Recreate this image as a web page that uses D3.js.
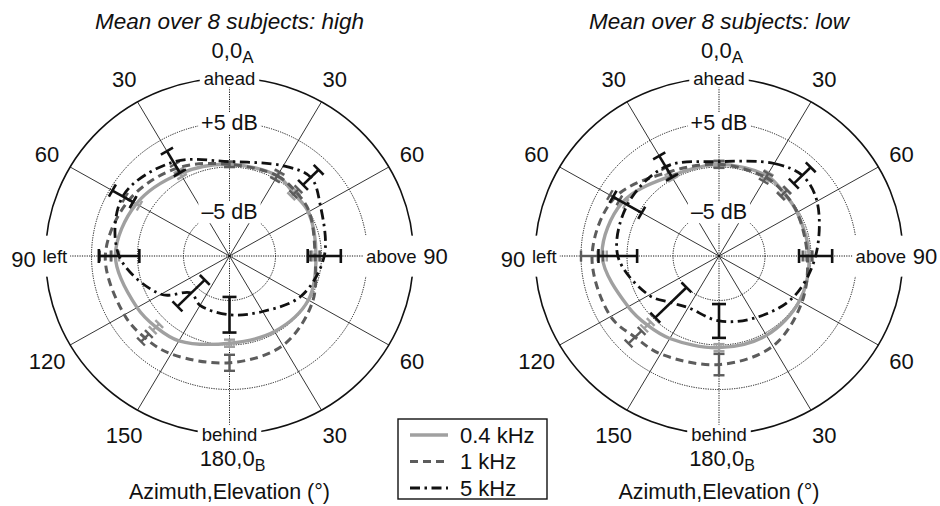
<!DOCTYPE html>
<html>
<head>
<meta charset="utf-8">
<script src="https://cdn.jsdelivr.net/npm/d3@7"></script>
<style>
  body { margin: 0; background: #fff; }
  text { font-family: "Liberation Sans", Arial, Helvetica, sans-serif; fill: #111; }
</style>
</head>
<body>
<svg id="chart" width="940" height="506"></svg>
<script>
// plot angle in degrees, clockwise from "ahead" (left half = azimuth, right half = elevation)
const angles = [0, 30, 45, 60, 90, 120, 150, 180, 210, 225, 240, 270, 300, 330];

// dB values, "high" panel
const high04 = [0.3, 0.4, -0.1, -0.1, -0.6, -0.1, -0.2, -0.2, 1.0, 1.3, 1.6, 2.4, 1.7, 0.7];
const high1 = [0.3, 0.4, 0.2, 0.0, -0.7, 0.4, 1.6, 2.0, 2.7, 3.0, 3.2, 3.5, 2.6, 1.4];
const high5 = [0.6, 1.7, 2.5, 1.4, 0.3, -1.0, -2.8, -3.4, -3.6, -4.1, -1.4, 2.0, 3.4, 2.2];
const highErr04 = [0.3, 0.4, 0.4, null, 0.4, null, null, 0.4, null, 0.5, null, 0.4, 0.4, 0.4];
const highErr1 = [0.3, 0.5, 0.4, null, 0.5, null, null, 0.9, null, 0.6, null, 0.6, 0.5, 0.5];
const highErr5 = [null, null, 1.2, null, 1.8, null, null, 2.0, null, 2.1, null, 2.2, 1.3, 1.4];

// "low" panel
const low04 = [0.3, 0.4, 0.0, -0.2, -0.2, 0.1, 0.3, 0.3, 0.7, 1.0, 1.4, 2.7, 2.1, 0.4];
const low1 = [0.3, 0.2, 0.0, -0.2, -0.4, 0.4, 1.7, 2.2, 2.7, 2.9, 3.6, 3.8, 3.1, 0.9];
const low5 = [0.6, 2.0, 2.8, 2.3, 0.5, -0.7, -2.0, -2.7, -3.3, -2.6, -1.2, 1.0, 1.5, 1.6];
const lowErr04 = [0.3, 0.4, 0.4, null, 0.4, null, null, 0.4, null, 0.5, null, 0.5, 0.4, 0.4];
const lowErr1 = [0.4, 0.5, 0.5, null, 0.5, null, null, 1.2, null, 1.0, null, 1.2, 0.6, 0.6];
const lowErr5 = [null, null, 1.3, null, 1.8, null, null, 1.9, null, 2.4, null, 2.1, 1.8, 1.4];

const seriesNames = ["0.4 kHz", "1 kHz", "5 kHz"];
const ringDb = [-5, 0, 5];
const ringLabels = [{ v: 5, text: "+5 dB" }, { v: -5, text: "\u20135 dB" }];
const spokeAngles = [0, 30, 60, 90, 120, 150, 180, 210, 240, 270, 300, 330];
const tickAngles = [30, 60, 90, 120, 150, 210, 240, 270, 300, 330];
const tickLabels = ["30", "60", "90", "60", "30", "150", "120", "90", "60", "30"];
const dirLabels = [
  { a: 0, text: "ahead" }, { a: 90, text: "above" },
  { a: 180, text: "behind" }, { a: 270, text: "left" }
];

const RX = 184, RY = 178, CY = 256;
const rScale = d3.scaleLinear().domain([-10, 10]).range([0, 1]);

const styles = [
  { color: "#a0a0a0", width: 3.4, dash: null, cap: 5.5 },
  { color: "#5c5c5c", width: 3, dash: "8,5", cap: 5.5 },
  { color: "#111", width: 2.8, dash: "10,4.5,2.5,4.5", cap: 7 }
];

const svg = d3.select("#chart");

function drawPolar(cx, title, values, errors) {
  const g = svg.append("g");
  const x = d3.scaleLinear().domain([-1, 1]).range([cx - RX, cx + RX]);
  const y = d3.scaleLinear().domain([-1, 1]).range([CY + RY, CY - RY]);
  const rad = (a) => (a * Math.PI) / 180;
  const px = (a, f) => x(f * Math.sin(rad(a)));
  const py = (a, f) => y(f * Math.cos(rad(a)));

  // rings
  g.selectAll("ellipse.ring")
    .data(ringDb)
    .join("ellipse")
    .attr("cx", cx)
    .attr("cy", CY)
    .attr("rx", (d) => x(rScale(d)) - cx)
    .attr("ry", (d) => CY - y(rScale(d)))
    .attr("fill", "none")
    .attr("stroke", "#111")
    .attr("stroke-width", 1)
    .attr("stroke-dasharray", "1.2,1.2");

  // spokes
  g.selectAll("line.spoke")
    .data(spokeAngles)
    .join("line")
    .attr("x1", (d) => px(d, 0))
    .attr("y1", (d) => py(d, 0))
    .attr("x2", (d) => px(d, 1))
    .attr("y2", (d) => py(d, 1))
    .attr("stroke", "#111")
    .attr("stroke-width", (d) => (d % 90 === 0 ? 1 : 0.85))
    .attr("stroke-dasharray", (d) => (d % 90 === 0 ? "1.2,1.2" : null));

  // outer circle
  g.append("ellipse")
    .attr("cx", cx)
    .attr("cy", CY)
    .attr("rx", RX)
    .attr("ry", RY)
    .attr("fill", "none")
    .attr("stroke", "#111")
    .attr("stroke-width", 1.6);

  // labels with white boxes
  function boxLabel(xp, yp, text, size, anchor, padX, padY) {
    const t = g.append("text")
      .attr("x", xp)
      .attr("y", yp)
      .attr("dy", "0.36em")
      .attr("text-anchor", anchor)
      .style("font-size", size + "px")
      .text(text);
    const b = t.node().getBBox();
    g.insert("rect", () => t.node())
      .attr("x", b.x - padX)
      .attr("y", b.y - padY)
      .attr("width", b.width + 2 * padX)
      .attr("height", b.height + 2 * padY)
      .attr("fill", "#fff");
  }

  ringLabels.forEach((d) => boxLabel(cx, py(0, rScale(d.v)), d.text, 21.5, "middle", 3, -1));
  dirLabels.forEach((d) => {
    if (d.a === 0 || d.a === 180) {
      boxLabel(px(d.a, 1), py(d.a, 1), d.text, 18.5, "middle", 4, -1);
    } else if (d.a === 90) {
      boxLabel(px(d.a, 1) + 3, CY, d.text, 18.5, "end", 3, 10);
    } else {
      boxLabel(px(d.a, 1) - 3, CY, d.text, 18.5, "start", 3, 10);
    }
  });

  // outer tick labels
  g.selectAll("text.tick")
    .data(tickAngles)
    .join("text")
    .attr("x", (d) => px(d, d % 180 === 90 ? 1.12 : 1.145))
    .attr("y", (d) => py(d, d % 180 === 90 ? 1.12 : 1.145) + (Math.cos(rad(d)) < 0 ? 3 : 0))
    .attr("dy", "0.36em")
    .attr("text-anchor", "middle")
    .style("font-size", "22px")
    .text((d, i) => tickLabels[i]);

  // 0,0 A  and 180,0 B
  const top = g.append("text")
    .attr("x", cx + 3)
    .attr("y", 58)
    .attr("text-anchor", "middle")
    .style("font-size", "22px");
  top.append("tspan").text("0,0");
  top.append("tspan").attr("dy", 5).style("font-size", "17px").text("A");

  const bot = g.append("text")
    .attr("x", cx + 3)
    .attr("y", 466)
    .attr("text-anchor", "middle")
    .style("font-size", "22px");
  bot.append("tspan").text("180,0");
  bot.append("tspan").attr("dy", 5).style("font-size", "16px").text("B");

  g.append("text")
    .attr("x", cx)
    .attr("y", 499)
    .attr("text-anchor", "middle")
    .style("font-size", "21.5px")
    .text("Azimuth,Elevation (\u00b0)");

  g.append("text")
    .attr("x", cx)
    .attr("y", 29)
    .attr("text-anchor", "middle")
    .style("font-size", "22.5px")
    .style("font-style", "italic")
    .text(title);

  // curves
  const line = d3.line()
    .x((d) => px(d.a, rScale(d.v)))
    .y((d) => py(d.a, rScale(d.v)))
    .curve(d3.curveCatmullRomClosed.alpha(0.5));

  values.forEach((vals, si) => {
    const st = styles[si];
    const pts = angles.map((a, i) => ({ a, v: vals[i], e: errors[si][i] }));

    g.append("path")
      .datum(pts)
      .attr("d", line)
      .attr("fill", "none")
      .attr("stroke", st.color)
      .attr("stroke-width", st.width)
      .attr("stroke-dasharray", st.dash);

    const bars = pts.filter((d) => d.e != null);
    const eg = g.append("g")
      .attr("stroke", st.color)
      .attr("stroke-width", si === 2 ? 2.6 : 2.4);
    bars.forEach((d) => {
      const f0 = rScale(d.v - d.e), f1 = rScale(d.v + d.e);
      const tx = Math.cos(rad(d.a)) * st.cap, ty = Math.sin(rad(d.a)) * st.cap;
      eg.append("line")
        .attr("x1", px(d.a, f0)).attr("y1", py(d.a, f0))
        .attr("x2", px(d.a, f1)).attr("y2", py(d.a, f1));
      [f0, f1].forEach((f) => {
        eg.append("line")
          .attr("x1", px(d.a, f) - tx).attr("y1", py(d.a, f) - ty)
          .attr("x2", px(d.a, f) + tx).attr("y2", py(d.a, f) + ty);
      });
    });
  });
}

drawPolar(229.5, "Mean over 8 subjects: high", [high04, high1, high5], [highErr04, highErr1, highErr5]);
drawPolar(719, "Mean over 8 subjects: low", [low04, low1, low5], [lowErr04, lowErr1, lowErr5]);

// legend
const legend = svg.append("g").attr("transform", "translate(398,419)");
legend.append("rect")
  .attr("width", 149)
  .attr("height", 80)
  .attr("fill", "#fff")
  .attr("stroke", "#111")
  .attr("stroke-width", 1.4);
const ly = d3.scaleLinear().domain([0, 2]).range([16, 69]);
seriesNames.forEach((name, i) => {
  legend.append("line")
    .attr("x1", 12).attr("x2", 50)
    .attr("y1", ly(i)).attr("y2", ly(i))
    .attr("stroke", styles[i].color)
    .attr("stroke-width", styles[i].width)
    .attr("stroke-dasharray", styles[i].dash);
  legend.append("text")
    .attr("x", 62)
    .attr("y", ly(i))
    .attr("dy", "0.36em")
    .style("font-size", "22px")
    .text(name);
});
</script>
</body>
</html>
